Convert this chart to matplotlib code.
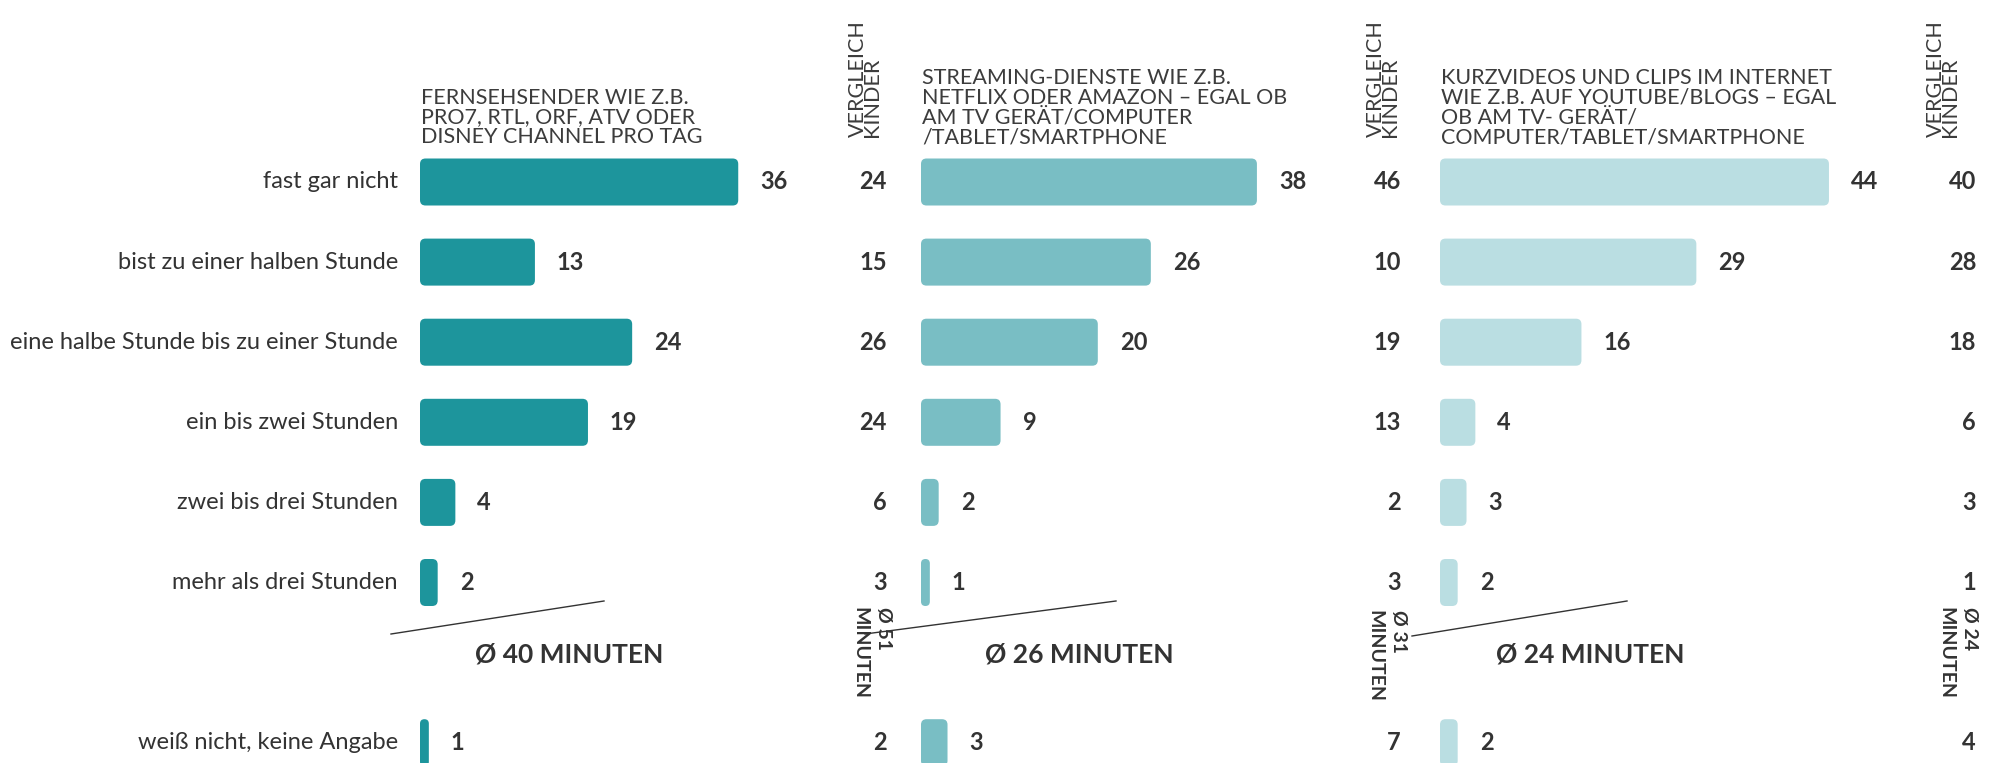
import matplotlib
matplotlib.use("Agg")
import matplotlib.pyplot as plt
from matplotlib.patches import FancyBboxPatch

# ---- data ----
categories = ["fast gar nicht", "bist zu einer halben Stunde",
              "eine halbe Stunde bis zu einer Stunde", "ein bis zwei Stunden",
              "zwei bis drei Stunden", "mehr als drei Stunden",
              "weiß nicht, keine Angabe"]
tv = [36, 13, 24, 19, 4, 2, 1]
tv_kinder = [24, 15, 26, 24, 6, 3, 2]
streaming = [38, 26, 20, 9, 2, 1, 3]
streaming_kinder = [46, 10, 19, 13, 2, 3, 7]
clips = [44, 29, 16, 4, 3, 2, 2]
clips_kinder = [40, 28, 18, 6, 3, 1, 4]
headers = ["FERNSEHSENDER WIE Z.B.\nPRO7, RTL, ORF, ATV ODER\nDISNEY CHANNEL PRO TAG",
           "STREAMING-DIENSTE WIE Z.B.\nNETFLIX ODER AMAZON – EGAL OB\nAM TV GERÄT/COMPUTER\n/TABLET/SMARTPHONE",
           "KURZVIDEOS UND CLIPS IM INTERNET\nWIE Z.B. AUF YOUTUBE/BLOGS – EGAL\nOB AM TV- GERÄT/\nCOMPUTER/TABLET/SMARTPHONE"]
averages = ["Ø 40 MINUTEN", "Ø 26 MINUTEN", "Ø 24 MINUTEN"]
averages_kinder = ["Ø 51\nMINUTEN", "Ø 31\nMINUTEN", "Ø 24\nMINUTEN"]
compare_title = "VERGLEICH\nKINDER"

# ---- layout (pixels) ----
W, H = 1995, 763
PX = 8.84          # pixels per percent
ROW0, ROWH = 182, 80.1
row_pos = [0, 1, 2, 3, 4, 5, 7]
colors = ["#1d959c", "#79bec4", "#badee2"]
ink = "#333333"
panel_left = [420, 921, 1440]
panel_right = [921, 1440, 1995]
num_right = [887, 1401, 1976]
avg_center = [569, 1079, 1590]
slash = [((391, 634), (604, 601)), ((865, 634), (1116, 601)), ((1412, 636), (1627, 601))]
kid_top = [607, 610, 607]
kid_right = [892, 1407, 1978]
cmp_right = [882, 1400, 1960]

plt.rcParams['font.family'] = ['Lato', 'DejaVu Sans']

fig = plt.figure(figsize=(W / 100, H / 100), dpi=100)

series = [(tv, tv_kinder), (streaming, streaming_kinder), (clips, clips_kinder)]

for i, (vals, kids) in enumerate(series):
    left, right = panel_left[i], panel_right[i]
    ax = fig.add_axes([left / W, 0, (right - left) / W, 1])
    ax.set_xlim(0, (right - left) / PX)
    ax.set_ylim((H - ROW0) / ROWH, -ROW0 / ROWH)
    ax.axis('off')

    bh = 47 / ROWH
    bars = ax.barh(row_pos, vals, height=bh, color=colors[i])
    for b in bars:
        x, y, w, h = b.get_x(), b.get_y(), b.get_width(), b.get_height()
        b.remove()
        r = min(5.5 / PX, w / 2)
        ax.add_patch(FancyBboxPatch((x, y), w, h,
                                    boxstyle="round,pad=0,rounding_size=%f" % r,
                                    mutation_aspect=PX / ROWH,
                                    fc=colors[i], ec='none', clip_on=True))

    for v, r in zip(vals, row_pos):
        ax.annotate(str(v), (v, r), xytext=(22, 0), textcoords='offset pixels',
                    ha='left', va='center', fontsize=17, fontweight='bold', color=ink)
    xk = (num_right[i] - left) / PX
    for v, r in zip(kids, row_pos):
        ax.text(xk, r, str(v), ha='right', va='center', fontsize=17,
                fontweight='bold', color=ink, clip_on=False)

    if i == 0:
        for c, r in zip(categories, row_pos):
            ax.text(-22 / PX, r, c, ha='right', va='center', fontsize=17,
                    color=ink, clip_on=False)

    # header
    fig.text(left / W + 1 / W, 1 - 147 / H, headers[i], ha='left', va='bottom',
             fontsize=15.5, color='#3c3c3c', linespacing=0.98)
    # comparison title (rotated)
    fig.text(cmp_right[i] / W, 1 - 137 / H, compare_title, rotation=90,
             ha='right', va='bottom', fontsize=15.5, color='#3c3c3c',
             linespacing=0.66, multialignment='left')
    # average
    fig.text(avg_center[i] / W, 1 - 654 / H, averages[i], ha='center', va='center',
             fontsize=19, fontweight='bold', color=ink)
    fig.text(kid_right[i] / W, 1 - kid_top[i] / H, averages_kinder[i], rotation=270,
             ha='right', va='top', fontsize=14, fontweight='bold', color=ink,
             linespacing=1.45, multialignment='left')
    (x0, y0), (x1, y1) = slash[i]
    fig.add_artist(plt.Line2D([x0 / W, x1 / W], [1 - y0 / H, 1 - y1 / H],
                              color=ink, lw=1.0))

fig.savefig("out.png", dpi=100, facecolor='white')
